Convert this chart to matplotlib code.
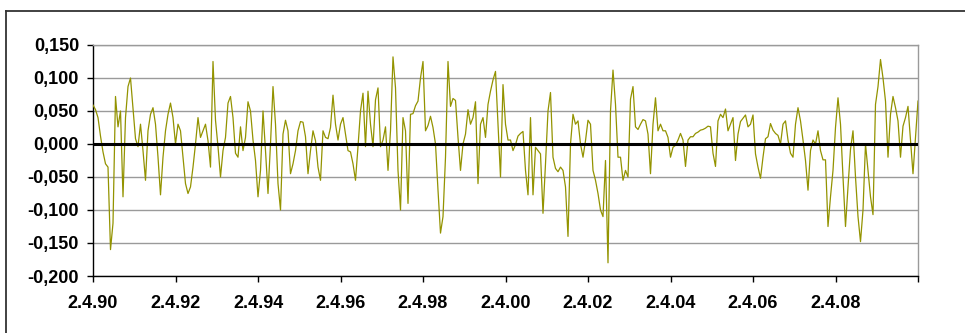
import matplotlib
matplotlib.use('Agg')
import matplotlib.pyplot as plt
from matplotlib.lines import Line2D
import numpy as np

plt.rcParams['font.family'] = ['Liberation Sans', 'DejaVu Sans']

# series values, one list per stretch of the axis
vals_90_92 = [0.059, 0.052, 0.04, 0.012, -0.012, -0.03, -0.035, -0.16, -0.12, 0.072,
              0.026, 0.05, -0.08, 0.04, 0.087, 0.10, 0.055, 0.008, -0.004, 0.03,
              -0.01, -0.055, 0.02, 0.045, 0.055, 0.03, -0.02, -0.077, -0.02, 0.02,
              0.045, 0.062, 0.04, 0.0, 0.03, 0.02, -0.02, -0.06, -0.075, -0.065,
              -0.035, 0.0, 0.04]
vals_92_95 = [0.01, 0.02, 0.03, 0.005, -0.035, 0.125, 0.036, -0.004, -0.05, -0.01,
              0.01, 0.062, 0.072, 0.04, -0.014, -0.02, 0.026, -0.01, 0.01, 0.064,
              0.05, 0.006, -0.025, -0.08, -0.04, 0.05, -0.01, -0.075, 0.0, 0.087,
              0.03, -0.06, -0.1, 0.015, 0.036, 0.02, -0.045, -0.03, -0.01, 0.02,
              0.034, 0.033]
vals_95_97 = [0.011, -0.045, -0.01, 0.02, 0.005, -0.035, -0.055, 0.02, 0.01, 0.008,
              0.025, 0.074, 0.03, 0.006, 0.03, 0.04, 0.015, -0.01, -0.012, -0.03,
              -0.055, -0.004, 0.05, 0.077, -0.004, 0.08, 0.03, -0.004, 0.067, 0.085,
              -0.004, 0.006, 0.026, -0.04, 0.02, 0.132, 0.085, -0.04, -0.1, 0.04,
              0.02, -0.09]
vals_97_00 = [0.045, 0.046, 0.058, 0.065, 0.1, 0.125, 0.02, 0.028, 0.042, 0.025,
              0.0, -0.07, -0.135, -0.11, -0.02, 0.125, 0.057, 0.069, 0.066, 0.01,
              -0.04, 0.0, 0.015, 0.052, 0.03, 0.04, 0.064, -0.06, 0.03, 0.04,
              0.01, 0.06, 0.08, 0.097, 0.11, 0.03, -0.05, 0.09, 0.03, 0.006,
              0.006, -0.01]
vals_00_02 = [-0.001, 0.012, 0.016, 0.019, -0.04, -0.077, 0.04, -0.077, -0.005, -0.01,
              -0.015, -0.105, -0.03, 0.05, 0.078, -0.02, -0.037, -0.042, -0.035, -0.04,
              -0.065, -0.14, 0.0, 0.045, 0.03, 0.035, 0.0, -0.02, 0.005, 0.036,
              0.03, -0.04, -0.055, -0.075, -0.1, -0.11, -0.025, -0.18, 0.05, 0.112,
              0.06, -0.02]
vals_02_05 = [-0.02, -0.055, -0.04, -0.05, 0.068, 0.087, 0.026, 0.022, 0.03, 0.037,
              0.035, 0.015, -0.045, 0.03, 0.07, 0.02, 0.03, 0.02, 0.02, 0.01,
              -0.02, -0.005, -0.002, 0.006, 0.016, 0.006, -0.034, 0.006, 0.011, 0.011,
              0.016, 0.018, 0.021, 0.022, 0.024, 0.027, 0.026, -0.014, -0.034, 0.035,
              0.045, 0.04]
vals_05_07 = [0.053, 0.02, 0.03, 0.04, -0.025, 0.015, 0.034, 0.039, 0.044, 0.026,
              0.03, 0.044, -0.015, -0.035, -0.052, -0.02, 0.008, 0.011, 0.031, 0.021,
              0.016, 0.013, 0.0, 0.03, 0.035, 0.006, -0.014, -0.02, 0.03, 0.055,
              0.035, 0.006, -0.025, -0.07, -0.01, 0.006, 0.0, 0.02, -0.01, -0.024,
              -0.024, -0.125]
vals_07_10 = [-0.08, -0.04, 0.025, 0.07, 0.03, -0.05, -0.125, -0.065, -0.008, 0.02,
              -0.05, -0.11, -0.148, -0.1, 0.0, -0.04, -0.08, -0.107, 0.06, 0.087,
              0.128, 0.1, 0.065, -0.02, 0.045, 0.072, 0.055, 0.035, -0.02, 0.027,
              0.04, 0.057, 0.007, -0.045, 0.01, 0.065]

x_labels = ['2.4.90', '2.4.92', '2.4.94', '2.4.96', '2.4.98', '2.4.00',
            '2.4.02', '2.4.04', '2.4.06', '2.4.08', '']
y_ticks = [0.15, 0.10, 0.05, 0.0, -0.05, -0.10, -0.15, -0.20]

values = np.array(vals_90_92 + vals_92_95 + vals_95_97 + vals_97_00 +
                  vals_00_02 + vals_02_05 + vals_05_07 + vals_07_10)
# evenly spaced in time from 2.4.1990 to 2.4.2010
years = np.linspace(1990.25, 2010.25, len(values))
x_ticks = 1990.25 + 2 * np.arange(len(x_labels))

W, H = 965, 333
fig = plt.figure(figsize=(W / 100, H / 100), dpi=100)
ax = fig.add_axes([93 / W, 1 - 276 / H, 825 / W, 231 / H])

ax.plot(years, values, color='#939300', lw=0.9, zorder=3)
ax.axhline(0, color='black', lw=2.2, zorder=4)

ax.set_xlim(x_ticks[0], x_ticks[-1])
ax.set_ylim(-0.2, 0.15)
ax.set_yticks(y_ticks)
ax.set_yticklabels([('%.3f' % v).replace('.', ',') for v in y_ticks])
ax.set_xticks(x_ticks)
ax.set_xticklabels(x_labels)

ax.yaxis.grid(True, color='#9a9a9a', lw=1.0)
ax.set_axisbelow(True)
for s in ['top', 'right']:
    ax.spines[s].set_color('#9a9a9a')
    ax.spines[s].set_linewidth(1.0)
for s in ['left', 'bottom']:
    ax.spines[s].set_color('black')
    ax.spines[s].set_linewidth(1.0)

ax.tick_params(axis='y', direction='out', length=4, width=1, pad=6,
               labelsize=13)
ax.tick_params(axis='x', direction='out', length=4, width=1, pad=10,
               labelsize=13)
for t in ax.get_xticklabels() + ax.get_yticklabels():
    t.set_fontweight('bold')

# outer chart frame (cut off at right and bottom)
fig.add_artist(Line2D([6 / W, 1], [1 - 11 / H, 1 - 11 / H], color='#333333', lw=1.3))
fig.add_artist(Line2D([6 / W, 6 / W], [0, 1 - 11 / H], color='#333333', lw=1.3))

fig.savefig('out.png', dpi=100)
